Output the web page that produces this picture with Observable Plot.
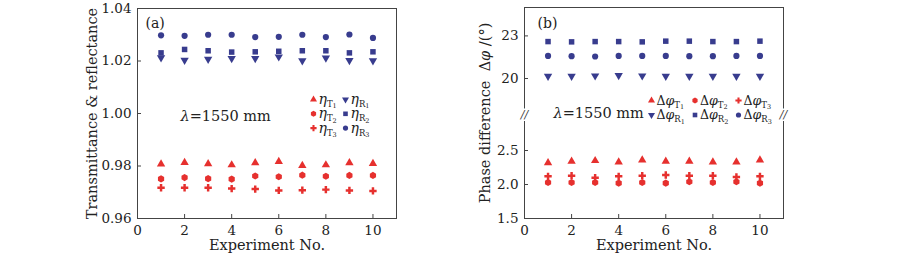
<!DOCTYPE html>
<html><head><meta charset="utf-8">
<script src="https://cdn.jsdelivr.net/npm/d3@7"></script>
<script src="https://cdn.jsdelivr.net/npm/@observablehq/plot@0.6"></script>
<style>
body{margin:0;background:#fff}
#wrap{position:relative;width:900px;height:254px;background:#fff}
#wrap svg{position:absolute;top:0}
</style></head><body><div id="wrap"></div>
<script>
// ---- data ----
const experiments = [1, 2, 3, 4, 5, 6, 7, 8, 9, 10];
const xTicks = [0, 2, 4, 6, 8, 10];

// (a) transmittance & reflectance
const etaT1 = [0.9807, 0.9813, 0.9808, 0.9804, 0.9812, 0.9817, 0.9802, 0.9804, 0.9812, 0.9809];
const etaT2 = [0.9751, 0.9756, 0.9752, 0.9750, 0.9762, 0.9759, 0.9765, 0.9761, 0.9764, 0.9764];
const etaT3 = [0.9717, 0.9717, 0.9717, 0.9714, 0.9712, 0.9707, 0.9708, 0.9710, 0.9707, 0.9705];
const etaR1 = [1.0213, 1.0203, 1.0207, 1.0210, 1.0210, 1.0216, 1.0201, 1.0212, 1.0202, 1.0201];
const etaR2 = [1.0231, 1.0244, 1.0239, 1.0234, 1.0235, 1.0237, 1.0239, 1.0239, 1.0231, 1.0235];
const etaR3 = [1.0298, 1.0296, 1.0300, 1.0300, 1.0291, 1.0292, 1.0300, 1.0291, 1.0301, 1.0288];
const yTicksA = [0.96, 0.98, 1.00, 1.02, 1.04];

// (b) phase difference (degrees)
const phiT1 = [2.32, 2.34, 2.35, 2.33, 2.36, 2.34, 2.34, 2.33, 2.33, 2.36];
const phiT2 = [2.03, 2.03, 2.03, 2.02, 2.03, 2.02, 2.04, 2.03, 2.04, 2.02];
const phiT3 = [2.12, 2.13, 2.10, 2.12, 2.13, 2.14, 2.13, 2.13, 2.11, 2.12];
const phiR1 = [20.16, 20.16, 20.19, 20.21, 20.19, 20.16, 20.16, 20.16, 20.16, 20.16];
const phiR2 = [22.60, 22.58, 22.60, 22.60, 22.58, 22.63, 22.63, 22.60, 22.60, 22.63];
const phiR3 = [21.59, 21.57, 21.55, 21.59, 21.59, 21.59, 21.57, 21.57, 21.59, 21.59];
const yTicksB = [1.5, 2.0, 2.5, 20, 23];
const yBreakB = [3.0, 17.5];

const keys = ["T1", "T2", "T3", "R1", "R2", "R3"];
const labelsA = ["i:η|s:T|ss:1", "i:η|s:T|ss:2", "i:η|s:T|ss:3", "i:η|s:R|ss:1", "i:η|s:R|ss:2", "i:η|s:R|ss:3"];
const labelsB = ["Δ|i:φ|s:T|ss:1", "Δ|i:φ|s:T|ss:2", "Δ|i:φ|s:T|ss:3", "Δ|i:φ|s:R|ss:1", "Δ|i:φ|s:R|ss:2", "Δ|i:φ|s:R|ss:3"];

// ---- styles ----
const RED = "#e6302e", BLUE = "#383c8e";
const style = {
  T1: {symbol: "triangle", rotate: 0, fill: RED},
  T2: {symbol: "hexagon", rotate: 0, fill: RED},
  T3: {symbol: "cross", rotate: 0, fill: RED},
  R1: {symbol: "triangle", rotate: 180, fill: BLUE},
  R2: {symbol: "square", rotate: 0, fill: BLUE},
  R3: {symbol: "circle", rotate: 0, fill: BLUE}
};
const FONT = "DejaVu Serif";
const INK = "#222";

function rows(seriesList) {
  const out = [];
  seriesList.forEach((vals, i) => vals.forEach((v, j) => out.push({x: experiments[j], y: v, key: keys[i]})));
  return out;
}
const dataA = rows([etaT1, etaT2, etaT3, etaR1, etaR2, etaR3]);
const dataB = rows([phiT1, phiT2, phiT3, phiR1, phiR2, phiR3]);

function seriesDots(data) {
  return keys.map(k => Plot.dot(data.filter(d => d.key === k), {
    x: "x", y: "y", symbol: style[k].symbol, rotate: style[k].rotate, fill: style[k].fill, r: 3.1
  }));
}
function legendMarks(labels, pos, fs) {
  const marks = [];
  keys.forEach((k, i) => {
    const [dx, dy] = pos(i);
    marks.push(Plot.dot([0], {frameAnchor: "top-left", dx, dy, symbol: style[k].symbol, rotate: style[k].rotate, fill: style[k].fill, r: 2.6}));
    marks.push(Plot.text([labels[i]], {frameAnchor: "top-left", dx: dx + 5, dy, text: d => d, textAnchor: "start", lineAnchor: "middle", fontSize: fs, fill: INK}));
  });
  return marks;
}
function richify(svg) {
  d3.select(svg).selectAll("text").each(function () {
    const s = this.textContent;
    if (!s.includes("|")) return;
    const el = d3.select(this);
    el.text(null);
    s.split("|").forEach(seg => {
      let t = seg, cls = "";
      const m = seg.match(/^(i|s|ss):(.*)$/);
      if (m) { cls = m[1]; t = m[2]; }
      const ts = el.append("tspan").text(t);
      if (cls === "i") ts.attr("font-style", "italic");
      if (cls === "s") ts.attr("font-size", 8.5).attr("dy", 3);
      if (cls === "ss") ts.attr("font-size", 6.5).attr("dy", 1.5);
    });
  });
}

const common = {
  width: 450, height: 254,
  style: {fontFamily: FONT, fontSize: "13.5px", color: INK, background: "transparent"}
};

// ---- panel (a) ----
const plotA = Plot.plot({
  ...common,
  marginLeft: 137, marginRight: 54, marginTop: 8, marginBottom: 36,
  x: {domain: [0, 11]},
  y: {domain: [0.96, 1.04]},
  marks: [
    Plot.frame({stroke: "#444"}),
    Plot.axisX({ticks: xTicks, tickSize: -4, tickPadding: 11, label: null, stroke: "#444"}),
    Plot.axisY({ticks: yTicksA, tickSize: -4, tickPadding: 10, tickFormat: d3.format(".2f"), label: null, stroke: "#444"}),
    Plot.text(["Experiment No."], {frameAnchor: "bottom", dy: 27, lineAnchor: "middle", text: d => d, fontSize: 14.5, fill: INK}),
    Plot.text(["Transmittance & reflectance"], {frameAnchor: "left", dx: -45, rotate: -90, textAnchor: "middle", lineAnchor: "middle", text: d => d, fontSize: 14.5, fill: INK}),
    Plot.text(["(a)"], {frameAnchor: "top-left", dx: 8, dy: 15, lineAnchor: "middle", text: d => d, textAnchor: "start", fontSize: 14, fill: INK}),
    Plot.text(["i:λ|=1550 mm"], {frameAnchor: "top-left", dx: 43, dy: 108, lineAnchor: "middle", text: d => d, textAnchor: "start", fontSize: 14.5, fill: INK}),
    ...seriesDots(dataA),
    ...legendMarks(labelsA, i => [176 + (i >= 3 ? 32 : 0), 91 + (i % 3) * 14.3], 14)
  ]
});
richify(plotA);

// ---- panel (b), broken y axis ----
const plotB = Plot.plot({
  ...common,
  marginLeft: 74, marginRight: 117, marginTop: 7, marginBottom: 36,
  x: {domain: [0, 11]},
  y: {type: "linear", domain: [1.5, yBreakB[0], yBreakB[1], 25], range: [218, 116, 113.5, 7]},
  marks: [
    Plot.frame({stroke: "#444"}),
    Plot.axisX({ticks: xTicks, tickSize: -4, tickPadding: 11, label: null, stroke: "#444"}),
    Plot.axisY({ticks: yTicksB, tickSize: -4, tickPadding: 10, tickFormat: d => d < 10 ? d.toFixed(1) : String(d), label: null, stroke: "#444"}),
    Plot.text(["//"], {frameAnchor: "left", dy: 1, textAnchor: "middle", lineAnchor: "middle", text: d => d, fontSize: 11, fill: "#333", stroke: "white", strokeWidth: 3, fontStyle: "italic"}),
    Plot.text(["//"], {frameAnchor: "right", dy: 1, textAnchor: "middle", lineAnchor: "middle", text: d => d, fontSize: 11, fill: "#333", stroke: "white", strokeWidth: 3, fontStyle: "italic"}),
    Plot.text(["Experiment No."], {frameAnchor: "bottom", dy: 27, lineAnchor: "middle", text: d => d, fontSize: 14.5, fill: INK}),
    Plot.text(["Phase difference  Δ|i:φ| /(°)"], {frameAnchor: "left", dx: -39, rotate: -90, textAnchor: "middle", lineAnchor: "middle", text: d => d, fontSize: 14.5, fill: INK}),
    Plot.text(["(b)"], {frameAnchor: "top-left", dx: 13, dy: 16, lineAnchor: "middle", text: d => d, textAnchor: "start", fontSize: 14, fill: INK}),
    Plot.text(["i:λ|=1550 mm"], {frameAnchor: "top-left", dx: 29, dy: 106, lineAnchor: "middle", text: d => d, textAnchor: "start", fontSize: 14.5, fill: INK}),
    ...seriesDots(dataB),
    ...legendMarks(labelsB, i => [127 + (i % 3) * 43.5, 93 + (i >= 3 ? 14.5 : 0)], 12.5)
  ]
});
richify(plotB);

const wrap = document.getElementById("wrap");
plotA.style.left = "0px";
plotB.style.left = "450px";
wrap.append(plotA, plotB);
</script></body></html>
